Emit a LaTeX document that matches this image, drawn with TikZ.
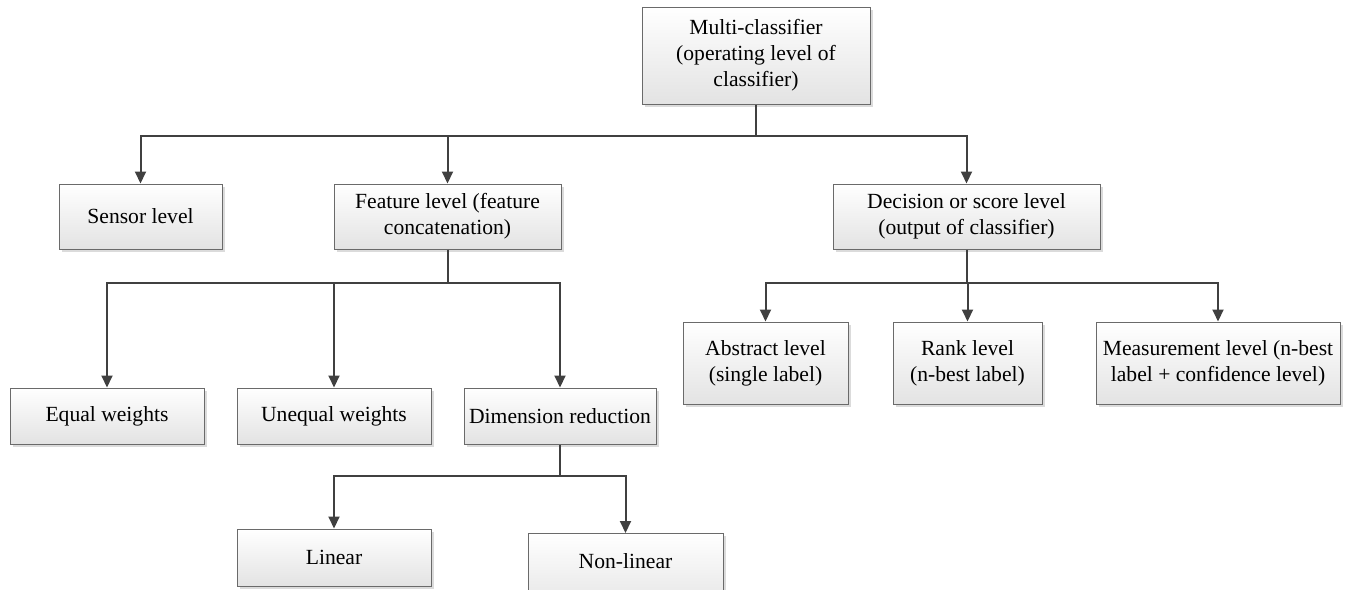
\documentclass[tikz,border=0pt]{standalone}
\usepackage{fontspec}
\setmainfont{Liberation Serif}
\usetikzlibrary{arrows.meta}
\definecolor{linegray}{HTML}{404040}
\definecolor{edgegray}{HTML}{6A6A6A}
\tikzset{
  levelbox/.style={rectangle, draw=edgegray, line width=1pt,
    top color=white, bottom color=black!11,
    preaction={fill=black!14, transform canvas={shift={(2.5pt,-2.5pt)}}},
    align=center, inner sep=0pt,
    font=\fontsize{21.6pt}{26pt}\selectfont},
  link/.style={draw=linegray, line width=2pt},
  arrowlink/.style={link, -{Triangle[length=12pt,width=11pt]}}
}
\newcommand{\boxat}[6]{% name, x1, y1, x2, y2, text
  \node[levelbox, minimum width={(#4-#2)*1pt}, minimum height={(#5-#3)*1pt}]
    (#1) at ({(#2+#4)/2},{(#3+#5)/2}) {#6};}
\begin{document}
\begin{tikzpicture}[x=1pt, y=-1pt]
  \useasboundingbox (0,0) rectangle (1349,589);

  % boxes
  \boxat{top}{642}{7}{870}{104}{Multi-classifier\\(operating level of\\classifier)}
  \boxat{sensor}{59}{184}{222}{249}{Sensor level}
  \boxat{feature}{334}{184}{561}{249}{Feature level (feature\\concatenation)}
  \boxat{decision}{833}{184}{1100}{249}{Decision or score level\\(output of classifier)}
  \boxat{abstract}{683}{322}{848}{404}{Abstract level\\(single label)}
  \boxat{rank}{893}{322}{1042}{404}{Rank level\\(n-best label)}
  \boxat{measure}{1096}{322}{1340}{404}{Measurement level (n-best\\label + confidence level)}
  \boxat{equal}{10}{388}{204}{444}{Equal weights}
  \boxat{unequal}{237}{388}{431}{444}{Unequal weights}
  \boxat{dimred}{464}{388}{656}{444}{Dimension reduction}
  \boxat{linear}{237}{529}{431}{586}{Linear}
  % this box runs past the lower edge of the page
  \node[levelbox, minimum width=195pt, minimum height=80pt, anchor=north]
    (nonlinear) at (625.5,533) {\smash{\raisebox{5pt}{Non-linear}}};

  % junctions on the buses
  \coordinate (j1) at (756,136);
  \coordinate (j2) at (447.5,283);
  \coordinate (j3) at (966.5,283);
  \coordinate (j4) at (560,476);

  % top level
  \draw[link] (top.south) -- (j1);
  \draw[arrowlink] (j1) -| (sensor.north);
  \draw[arrowlink] (j1) -| (feature.north);
  \draw[arrowlink] (j1) -| (decision.north);

  % feature branch
  \draw[link] (feature.south) -- (j2);
  \draw[arrowlink] (j2) -| (equal.north);
  \draw[arrowlink] (j2) -| (unequal.north);
  \draw[arrowlink] (j2) -| (dimred.north);

  % decision branch
  \draw[link] (decision.south) -- (j3);
  \draw[arrowlink] (j3) -| (abstract.north);
  \draw[arrowlink] (j3) -| (rank.north);
  \draw[arrowlink] (j3) -| (measure.north);

  % dimension reduction branch
  \draw[link] (dimred.south) -- (j4);
  \draw[arrowlink] (j4) -| (linear.north);
  \draw[arrowlink] (j4) -| (nonlinear.north);
\end{tikzpicture}
\end{document}
